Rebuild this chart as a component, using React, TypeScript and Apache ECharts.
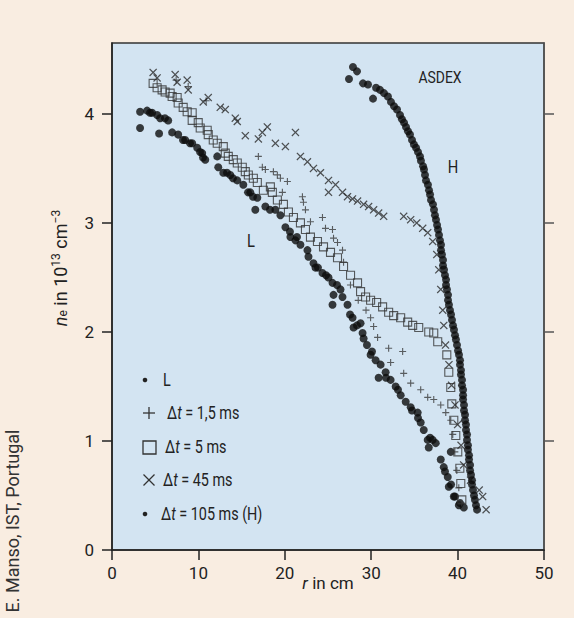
import React, { useEffect, useRef } from 'react';
import * as echarts from 'echarts';

// ---- data (r in cm, n_e in 1e13 cm^-3) ----
const xTicks = [0, 10, 20, 30, 40, 50];
const yTicks = [0, 1, 2, 3, 4];

const seriesNames = ['L', 'Δt = 1,5 ms', 'Δt = 5 ms', 'Δt = 45 ms', 'Δt = 105 ms (H)'];

const lData = [
  [3.25, 4.02], [3.25, 3.87], [4.06, 4.03], [4.4, 4.01], [4.64, 4.01], [5.22, 3.99], [5.57, 3.96], [5.45, 3.82],
  [6.13, 3.96], [6.5, 3.94], [6.96, 3.83], [7.66, 3.81], [8.22, 3.76], [8.47, 3.76], [9.03, 3.73], [9.28, 3.73],
  [9.86, 3.69], [10.19, 3.65], [10.44, 3.64], [10.53, 3.6], [10.79, 3.58], [12.18, 3.61], [12.3, 3.51],
  [12.88, 3.46], [13.31, 3.46], [13.69, 3.44], [14.0, 3.41], [14.5, 3.39], [15.2, 3.35], [15.74, 3.28],
  [16.01, 3.28], [16.32, 3.24], [16.82, 3.23], [16.59, 3.12], [17.75, 3.15], [18.29, 3.12], [18.91, 3.12],
  [19.49, 3.07], [20.07, 2.96], [20.6, 2.92], [20.65, 2.87], [21.23, 2.84], [21.41, 2.87], [21.81, 2.8],
  [22.62, 2.75], [22.74, 2.69], [23.32, 2.63], [23.55, 2.59], [23.84, 2.59], [24.36, 2.54], [24.77, 2.52],
  [25.06, 2.5], [25.52, 2.45], [25.64, 2.34], [25.52, 2.25], [26.04, 2.43], [26.45, 2.39], [26.68, 2.32],
  [27.26, 2.25], [27.55, 2.16], [27.84, 2.13], [27.96, 2.04], [28.36, 2.06], [28.77, 2.08], [29.0, 1.99],
  [29.12, 1.94], [29.51, 1.88], [29.93, 1.79], [30.09, 1.82], [30.51, 1.74], [31.09, 1.7], [30.86, 1.58],
  [31.67, 1.63], [31.71, 1.58], [32.25, 1.56], [32.83, 1.5], [33.1, 1.47], [33.41, 1.42], [33.99, 1.36],
  [34.57, 1.31], [34.72, 1.28], [35.38, 1.26], [35.42, 1.21], [35.73, 1.17], [36.08, 1.1], [36.54, 1.01],
  [36.81, 1.03], [37.12, 1.01], [37.47, 0.98], [36.66, 0.94], [38.05, 0.83], [39.21, 0.9], [38.4, 0.76],
  [38.54, 0.72], [38.86, 0.67], [38.98, 0.58], [39.24, 0.6], [39.56, 0.49], [39.7, 0.49], [40.14, 0.41],
  [40.28, 0.43], [40.72, 0.39],
];

const dt15Data = [
  [7.42, 4.31], [8.82, 4.25], [10.9, 4.12], [16.94, 3.61], [17.4, 3.51], [17.75, 3.49], [18.68, 3.47],
  [19.14, 3.44], [19.49, 3.41], [20.3, 3.38], [19.72, 3.28], [22.04, 3.24], [22.16, 3.19], [22.39, 3.12],
  [22.97, 3.01], [24.36, 3.05], [24.71, 2.95], [25.52, 2.94], [25.64, 2.86], [26.1, 2.82], [26.68, 2.75],
  [26.8, 2.64], [27.6, 2.43], [28.5, 2.29], [29.4, 2.2], [29.93, 2.13], [30.28, 2.05], [30.74, 1.95],
  [32.02, 1.85], [33.64, 1.82], [32.25, 1.72], [33.76, 1.62], [34.57, 1.53], [35.73, 1.47], [36.54, 1.4],
  [37.24, 1.38], [38.05, 1.33], [38.63, 1.26], [39.21, 1.19], [39.44, 1.06], [39.68, 0.9], [39.91, 0.73],
  [40.14, 0.57], [40.49, 0.43],
];

const dt5Data = [
  [4.76, 4.28], [5.22, 4.24], [5.8, 4.22], [6.15, 4.2], [6.73, 4.19], [6.96, 4.16], [7.54, 4.15],
  [7.66, 4.1], [8.24, 4.06], [8.7, 4.02], [9.28, 4.01], [9.28, 3.94], [9.98, 3.92], [10.21, 3.87],
  [11.02, 3.85], [11.14, 3.81], [11.72, 3.76], [12.18, 3.73], [12.88, 3.7], [13.11, 3.64], [13.46, 3.61],
  [14.04, 3.58], [14.5, 3.55], [15.08, 3.51], [15.43, 3.47], [15.78, 3.44], [16.36, 3.41], [16.82, 3.37],
  [17.52, 3.3], [18.33, 3.33], [18.56, 3.28], [19.14, 3.21], [19.84, 3.17], [20.42, 3.1], [21.0, 3.05],
  [21.81, 3.0], [22.39, 2.94], [22.97, 2.87], [23.78, 2.83], [24.48, 2.78], [25.29, 2.73], [26.1, 2.68],
  [26.8, 2.6], [27.61, 2.52], [28.42, 2.45], [28.77, 2.37], [29.35, 2.32], [29.93, 2.29], [30.63, 2.27],
  [31.32, 2.23], [32.02, 2.18], [32.6, 2.15], [33.41, 2.13], [34.22, 2.09], [34.8, 2.06], [35.5, 2.04],
  [36.66, 2.0], [37.24, 1.99], [37.7, 1.91], [38.75, 1.79], [38.98, 1.63], [39.21, 1.49], [39.33, 1.34],
  [39.56, 1.19], [39.79, 1.05], [40.02, 0.9], [40.26, 0.75], [40.37, 0.61], [40.49, 0.46],
];

const dt45Data = [
  [4.76, 4.38], [5.22, 4.33], [7.31, 4.36], [7.54, 4.29], [8.7, 4.31], [8.82, 4.22], [10.56, 4.11],
  [11.14, 4.15], [12.53, 4.06], [13.11, 4.04], [14.27, 3.96], [14.5, 3.93], [15.43, 3.8], [16.94, 3.77],
  [17.4, 3.83], [17.98, 3.88], [18.91, 3.73], [20.07, 3.7], [21.23, 3.83], [21.81, 3.61], [22.62, 3.56],
  [23.32, 3.5], [24.13, 3.46], [25.06, 3.39], [25.06, 3.28], [25.87, 3.35], [26.68, 3.28], [27.26, 3.24],
  [27.84, 3.22], [28.42, 3.2], [29.12, 3.17], [29.7, 3.15], [30.28, 3.12], [30.86, 3.09], [31.44, 3.06],
  [33.76, 3.06], [34.57, 3.03], [35.27, 3.0], [35.96, 2.95], [36.54, 2.91], [37.12, 2.83], [37.59, 2.71],
  [37.82, 2.57], [38.05, 2.39], [38.28, 2.2], [38.4, 2.06], [38.6, 1.88], [39.0, 1.7], [39.3, 1.51],
  [39.7, 1.33], [40.0, 1.15], [40.4, 0.96], [40.7, 0.78], [41.5, 0.64], [42.5, 0.55], [42.9, 0.49],
  [43.3, 0.37],
];

const dt105Data = [
  [27.89, 4.43], [28.36, 4.39], [27.43, 4.32], [29.05, 4.28], [29.63, 4.27], [30.21, 4.14], [30.56, 4.24],
  [31.02, 4.22], [31.48, 4.19], [31.94, 4.16], [32.29, 4.11], [32.64, 4.07], [32.99, 4.04], [33.33, 3.99],
  [33.56, 3.95], [33.8, 3.92], [34.03, 3.88], [34.26, 3.84], [34.49, 3.81], [34.72, 3.76], [34.95, 3.72],
  [35.19, 3.69], [35.42, 3.65], [35.65, 3.61], [35.76, 3.57], [36.0, 3.52], [36.11, 3.49], [36.23, 3.44],
  [36.34, 3.39], [36.57, 3.35], [36.69, 3.3], [36.81, 3.26], [36.92, 3.21], [37.15, 3.17], [37.27, 3.12],
  [37.38, 3.07], [37.5, 3.03], [37.62, 2.98], [37.73, 2.94], [37.85, 2.89], [37.96, 2.84], [38.08, 2.8],
  [38.08, 2.75], [38.19, 2.71], [38.31, 2.66], [38.31, 2.61], [38.43, 2.57], [38.54, 2.52], [38.66, 2.48],
  [38.66, 2.43], [38.77, 2.39], [38.89, 2.34], [38.89, 2.29], [39.0, 2.25], [39.12, 2.2], [39.24, 2.16],
  [39.35, 2.11], [39.47, 2.06], [39.58, 2.02], [39.7, 1.97], [39.81, 1.93], [39.93, 1.88], [40.05, 1.83],
  [40.16, 1.79], [40.28, 1.74], [40.28, 1.7], [40.39, 1.65], [40.39, 1.61], [40.51, 1.56], [40.51, 1.51],
  [40.63, 1.47], [40.63, 1.42], [40.63, 1.38], [40.74, 1.33], [40.74, 1.28], [40.86, 1.24], [40.86, 1.19],
  [40.97, 1.15], [40.97, 1.1], [41.09, 1.06], [41.09, 1.01], [41.2, 0.96], [41.2, 0.92], [41.32, 0.87],
  [41.32, 0.83], [41.44, 0.78], [41.44, 0.73], [41.55, 0.69], [41.67, 0.64], [41.67, 0.6], [41.78, 0.55],
  [41.9, 0.5], [42.01, 0.46], [42.13, 0.41], [42.25, 0.37],
];

const FONT = 'Roboto, "Noto Sans", sans-serif';
const TXT = '#222';

const PLUS = 'path://M4.2,0H5.8V4.2H10V5.8H5.8V10H4.2V5.8H0V4.2H4.2Z';
const CROSS = 'path://M1.1,0L5,3.9L8.9,0L10,1.1L6.1,5L10,8.9L8.9,10L5,6.1L1.1,10L0,8.9L3.9,5L0,1.1Z';

const richLegend = {
  a: { fontFamily: FONT, fontSize: 18, fill: TXT },
  i: { fontFamily: FONT, fontSize: 18, fill: TXT, fontStyle: 'italic' },
};

function legendRich(name: string) {
  if (name === 'L') return '{a|L}';
  return '{a|Δ}{i|t}{a|' + name.slice(2) + '}';
}

function legendText(name: string, x: number, y: number) {
  return {
    type: 'text', x, y, scaleX: 0.8,
    style: { text: legendRich(name), rich: richLegend, verticalAlign: 'middle', align: 'left' },
  };
}

function note(text: string, x: number, y: number, size: number) {
  return {
    type: 'text', x, y, scaleX: 0.82,
    style: { text, fontFamily: FONT, fontSize: size, fill: TXT, align: 'center', verticalAlign: 'middle' },
  };
}

export default function App() {
  const ref = useRef<HTMLDivElement>(null);
  useEffect(() => {
    if (!ref.current) return;
    const chart = echarts.init(ref.current, undefined, { renderer: 'svg' });
    const dotStyle = { color: '#0d0d0d' };
    const iconStroke = { stroke: '#333', lineWidth: 1.3 };
    chart.setOption({
      animation: false,
      backgroundColor: '#f9ede1',
      grid: {
        left: 112, top: 43, right: 30, bottom: 68,
        show: true, backgroundColor: '#d3e4f2', borderColor: '#333', borderWidth: 1.5,
      },
      xAxis: {
        type: 'value', min: xTicks[0], max: xTicks[xTicks.length - 1], interval: 10,
        axisLine: { lineStyle: { color: '#222', width: 1.5 } },
        axisTick: { length: 10, lineStyle: { color: '#222', width: 1.5 } },
        axisLabel: { margin: 14, fontFamily: FONT, fontSize: 17, color: TXT },
        splitLine: { show: false },
        name: '{i|r}{a| in cm}',
        nameLocation: 'middle',
        nameGap: 24,
        nameMoveOverlap: false,
        nameTextStyle: {
          rich: {
            a: { fontFamily: FONT, fontSize: 17, color: TXT },
            i: { fontFamily: FONT, fontSize: 17, color: TXT, fontStyle: 'italic' },
          },
        },
      },
      yAxis: [
        {
          type: 'value', min: 0, max: 4.65,
          axisLine: { show: true, lineStyle: { color: '#222', width: 1.5 } },
          axisTick: { show: true, length: 10, customValues: yTicks, lineStyle: { color: '#222', width: 1.5 } },
          axisLabel: {
            customValues: yTicks, margin: 18, fontFamily: FONT, fontSize: 17, color: TXT,
            verticalAlign: 'middle', padding: [0, 0, 6, 0],
          },
          splitLine: { show: false },
        },
        {
          type: 'value', min: 0, max: 4.65, position: 'right',
          axisLine: { show: true, lineStyle: { color: '#555', width: 1.5 } },
          axisTick: { show: true, length: 10, customValues: yTicks.slice(1), lineStyle: { color: '#555', width: 1.5 } },
          axisLabel: { show: false },
          splitLine: { show: false },
        },
      ],
      series: [
        { name: seriesNames[0], type: 'scatter', data: lData, symbol: 'circle', symbolSize: 8, itemStyle: dotStyle },
        { name: seriesNames[1], type: 'scatter', data: dt15Data, symbol: PLUS, symbolSize: 7, itemStyle: { color: '#3a3a3a' } },
        {
          name: seriesNames[2], type: 'scatter', data: dt5Data, symbol: 'rect', symbolSize: 8,
          itemStyle: { color: 'rgba(0,0,0,0)', borderColor: '#333', borderWidth: 1.1 },
        },
        { name: seriesNames[3], type: 'scatter', data: dt45Data, symbol: CROSS, symbolSize: 8, itemStyle: { color: '#2a2a2a' } },
        { name: seriesNames[4], type: 'scatter', data: dt105Data, symbol: 'circle', symbolSize: 8, itemStyle: dotStyle },
      ],
      graphic: [
        note('ASDEX', 440, 78, 17),
        note('H', 453, 167, 18),
        note('L', 251, 241, 18),
        // legend
        { type: 'circle', shape: { cx: 145, cy: 380, r: 2.3 }, style: { fill: '#222' } },
        legendText(seriesNames[0], 163, 380),
        { type: 'line', shape: { x1: 143, y1: 413, x2: 155, y2: 413 }, style: iconStroke },
        { type: 'line', shape: { x1: 149, y1: 407, x2: 149, y2: 419 }, style: iconStroke },
        legendText(seriesNames[1], 167, 413),
        { type: 'rect', shape: { x: 143, y: 441, width: 13, height: 13 }, style: { fill: 'none', stroke: '#333', lineWidth: 1.3 } },
        legendText(seriesNames[2], 165, 447),
        { type: 'line', shape: { x1: 143.5, y1: 474.5, x2: 154.5, y2: 485.5 }, style: iconStroke },
        { type: 'line', shape: { x1: 143.5, y1: 485.5, x2: 154.5, y2: 474.5 }, style: iconStroke },
        legendText(seriesNames[3], 163, 480),
        { type: 'circle', shape: { cx: 145, cy: 514, r: 2.3 }, style: { fill: '#222' } },
        legendText(seriesNames[4], 161, 514),
        // axis title
        {
          type: 'text', x: 60, y: 268, rotation: Math.PI / 2,
          style: {
            text: '{i|n}{sub|e}{a| in 10}{sup|13}{a| cm}{sup|−3}',
            align: 'center', verticalAlign: 'middle',
            rich: {
              a: { fontFamily: FONT, fontSize: 18, fill: TXT, lineHeight: 22 },
              i: { fontFamily: FONT, fontSize: 18, fill: TXT, fontStyle: 'italic', lineHeight: 22 },
              sub: { fontFamily: FONT, fontSize: 12, fill: TXT, padding: [6, 0, 0, 0], lineHeight: 22 },
              sup: { fontFamily: FONT, fontSize: 12, fill: TXT, padding: [0, 0, 8, 0], lineHeight: 22 },
            },
          },
        },
        {
          type: 'text', x: 12, y: 521, rotation: Math.PI / 2,
          style: { text: 'E. Manso, IST, Portugal', fontFamily: FONT, fontSize: 18, fill: '#333', align: 'center', verticalAlign: 'middle' },
        },
      ],
    });
    return () => chart.dispose();
  }, []);
  return <div ref={ref} style={{ position: 'fixed', left: 0, top: 0, width: 574, height: 618 }} />;
}
